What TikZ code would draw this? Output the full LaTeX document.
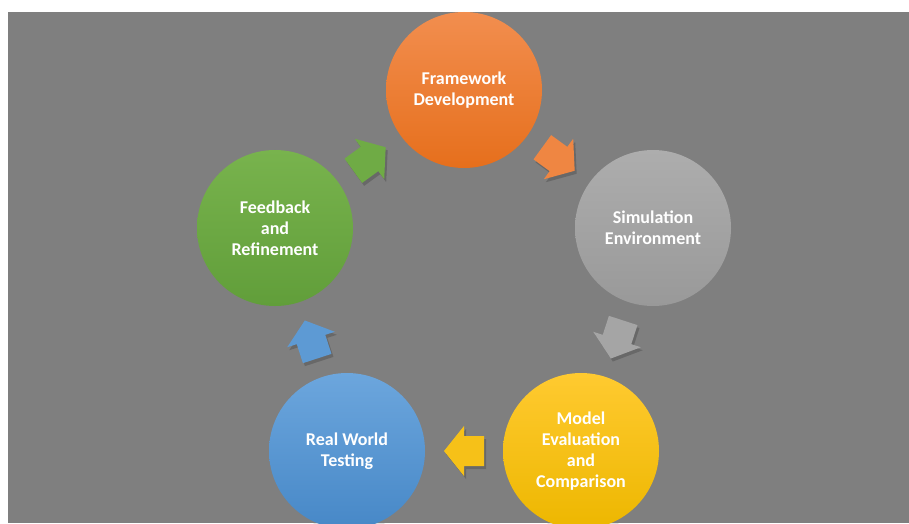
\documentclass[tikz,border=0pt]{standalone}
\usepackage{fontspec}
\setmainfont{Carlito}
\usetikzlibrary{calc,shadows}
\definecolor{bggray}{HTML}{7F7F7F}
\definecolor{orT}{HTML}{F28E4F}
\definecolor{orB}{HTML}{E66F1C}
\definecolor{grT}{HTML}{ADADAD}
\definecolor{grB}{HTML}{999999}
\definecolor{yeT}{HTML}{FFCA30}
\definecolor{yeB}{HTML}{EDB700}
\definecolor{blT}{HTML}{6CA6DD}
\definecolor{blB}{HTML}{4788C7}
\definecolor{gnT}{HTML}{78B34D}
\definecolor{gnB}{HTML}{619E3A}
\begin{document}
\begin{tikzpicture}[x=1pt,y=1pt,
  stage/.style={circle, minimum size=156pt, inner sep=0pt, text=white,
    font=\bfseries\fontsize{18}{21}\selectfont, align=center,
    drop shadow={shadow xshift=2pt, shadow yshift=-3pt, opacity=0.25}},
  pics/blockarrow/.style={code={
    \fill[#1] (-20,-15) -- (0,-15) -- (0,-25) -- (20,0) -- (0,25) -- (0,15) -- (-20,15) -- cycle;}},
  arrowshadow/.style={black, opacity=0.18}]
\useasboundingbox (0,0) rectangle (909,523);
\fill[bggray] (8,0) rectangle (909,511);
\node[stage, top color=orT, bottom color=orB] (fw) at (464,433) {Framework\\Development};
\node[stage, top color=grT, bottom color=grB] (sim) at (653,295) {Simulation\\Environment};
\node[stage, top color=yeT, bottom color=yeB] (eval) at (581,72) {Model\\Evaluation\\and\\Comparison};
\node[stage, top color=blT, bottom color=blB] (real) at (347,72) {Real World\\Testing};
\node[stage, top color=gnT, bottom color=gnB] (fb) at (275,295) {Feedback\\and\\Refinement};
\coordinate (m1) at ($(fw)!0.5!(sim)$);
\coordinate (m2) at ($(sim)!0.5!(eval)$);
\coordinate (m3) at ($(eval)!0.5!(real)$);
\coordinate (m4) at ($(real)!0.5!(fb)$);
\coordinate (m5) at ($(fb)!0.5!(fw)$);
\pic[rotate=-36] at ($(m1)+(2,-3)$) {blockarrow=arrowshadow};
\pic[rotate=-108] at ($(m2)+(2,-3)$) {blockarrow=arrowshadow};
\pic[rotate=180] at ($(m3)+(2,-3)$) {blockarrow=arrowshadow};
\pic[rotate=108] at ($(m4)+(2,-3)$) {blockarrow=arrowshadow};
\pic[rotate=36] at ($(m5)+(2,-3)$) {blockarrow=arrowshadow};
\pic[rotate=-36] at (m1) {blockarrow=orT!75!orB};
\pic[rotate=-108] at (m2) {blockarrow=grT!60!grB};
\pic[rotate=180] at (m3) {blockarrow=yeT!50!yeB};
\pic[rotate=108] at (m4) {blockarrow=blT!60!blB};
\pic[rotate=36] at (m5) {blockarrow=gnT!60!gnB};
\end{tikzpicture}
\end{document}
